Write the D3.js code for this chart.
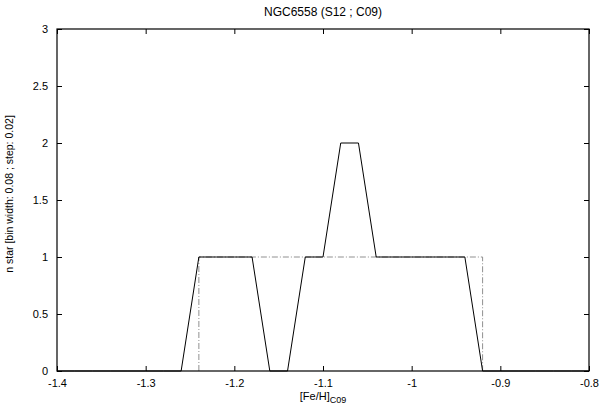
<!DOCTYPE html>
<html>
<head>
<meta charset="utf-8">
<script src="https://cdn.jsdelivr.net/npm/d3@7"></script>
<style>
body { margin: 0; background: #fff; }
svg { font-family: "Liberation Sans", Arial, sans-serif; font-size: 11px; }
.axis path { display: none; }
.axis line { stroke: #000; }
.axis text { fill: #000; font-size: 11px; }
</style>
</head>
<body>
<svg id="chart" width="600" height="409"></svg>
<script>
// histogram: bin centres (step 0.02) and star counts
const feh = [-1.40,-1.38,-1.36,-1.34,-1.32,-1.30,-1.28,-1.26,-1.24,-1.22,-1.20,-1.18,-1.16,-1.14,-1.12,-1.10,-1.08,-1.06,-1.04,-1.02,-1.00,-0.98,-0.96,-0.94,-0.92,-0.90,-0.88,-0.86,-0.84,-0.82,-0.80]
const nStar = [0,0,0,0,0,0,0,0,1,1,1,1,0,0,1,1,2,2,1,1,1,1,1,1,0,0,0,0,0,0,0]
// range box (dash-dot)
const rangeX = [-1.24,-1.24,-0.92,-0.92]
const rangeY = [0,1,1,0]
const xTicks = [-1.4,-1.3,-1.2,-1.1,-1,-0.9,-0.8]
const yTicks = [0,0.5,1,1.5,2,2.5,3]

const margin = {top: 29, right: 11, bottom: 38, left: 57}
const width = 600 - margin.left - margin.right,
      height = 409 - margin.top - margin.bottom;

let x = d3.scaleLinear().domain([-1.4, -0.8]).range([0, width])
let y = d3.scaleLinear().domain([0, 3]).range([height, 0])
let fmt = d => String(+d.toFixed(1))

let svg = d3.select("#chart")
let chart = svg.append("g")
    .attr("transform", "translate(" + margin.left + "," + margin.top + ")");

// inward ticks on all four sides
chart.append("g").attr("class", "axis")
    .attr("transform", "translate(0," + height + ")")
    .call(d3.axisBottom(x).tickValues(xTicks).tickFormat(fmt).tickSizeInner(-5).tickSizeOuter(0).tickPadding(8))
chart.append("g").attr("class", "axis")
    .call(d3.axisTop(x).tickValues(xTicks).tickFormat("").tickSizeInner(-5).tickSizeOuter(0))
chart.append("g").attr("class", "axis")
    .call(d3.axisLeft(y).tickValues(yTicks).tickFormat(fmt).tickSizeInner(-5).tickSizeOuter(0).tickPadding(9))
chart.append("g").attr("class", "axis")
    .attr("transform", "translate(" + width + ",0)")
    .call(d3.axisRight(y).tickValues(yTicks).tickFormat("").tickSizeInner(-5).tickSizeOuter(0))

// range box
let line = d3.line().x(d => x(d[0])).y(d => y(d[1]))
chart.append("path")
    .datum(rangeX.map((v, i) => [v, rangeY[i]]))
    .attr("d", line)
    .attr("fill", "none")
    .attr("stroke", "#909090")
    .attr("stroke-width", 1)
    .attr("stroke-dasharray", "6,2,1,2")

// histogram line
chart.append("path")
    .datum(feh.map((v, i) => [v, nStar[i]]))
    .attr("d", line)
    .attr("fill", "none")
    .attr("stroke", "#000")
    .attr("stroke-width", 1)

// frame
chart.append("rect")
    .attr("width", width).attr("height", height)
    .attr("fill", "none").attr("stroke", "#000").attr("stroke-width", 1.2)

svg.append("text")//title
    .attr("x", margin.left + width / 2).attr("y", 16)
    .attr("text-anchor", "middle")
    .style("font-size", "12px")
    .text("NGC6558 (S12 ; C09)")

let xl = svg.append("text")//x label
    .attr("x", margin.left + width / 2).attr("y", 400)
    .attr("text-anchor", "middle")
xl.append("tspan").text("[Fe/H]")
xl.append("tspan").attr("dy", 3).style("font-size", "9px").text("C09")

svg.append("text")//y label
    .attr("transform", "translate(13,194) rotate(-90)")
    .attr("text-anchor", "middle")
    .style("font-size", "10.5px")
    .text("n star [bin width: 0.08 ; step: 0.02]")
</script>
</body>
</html>
